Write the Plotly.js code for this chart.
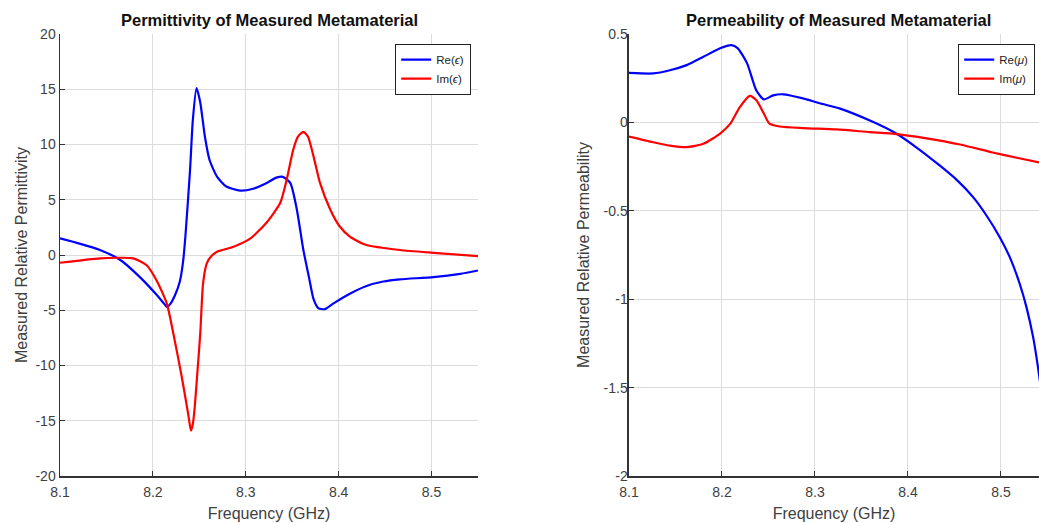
<!DOCTYPE html>
<html>
<head>
<meta charset="utf-8">
<script src="https://cdn.plot.ly/plotly-3.0.1.min.js"></script>
<style>html,body{margin:0;padding:0;background:#fff;}#chart{width:1039px;height:523px;}</style>
</head>
<body>
<div id="chart"></div>
<script>
// ---- Permittivity (left panel) ----
const freqReEps = [8.100, 8.120, 8.143, 8.165, 8.186, 8.204, 8.212, 8.215, 8.219, 8.224, 8.229, 8.2325, 8.235, 8.240, 8.243, 8.247, 8.251, 8.256, 8.261, 8.269, 8.279, 8.294, 8.308, 8.322, 8.333, 8.340, 8.348, 8.355, 8.362, 8.368, 8.373, 8.378, 8.385, 8.394, 8.412, 8.430, 8.448, 8.466, 8.502, 8.531, 8.550];
const reEps     = [1.5, 1.05, 0.45, -0.45, -2.0, -3.6, -4.4, -4.7, -4.4, -3.6, -2.4, -0.6, 1.7, 7.7, 12.2, 15.1, 13.8, 10.7, 8.6, 7.1, 6.2, 5.83, 6.0, 6.5, 7.0, 7.07, 6.5, 4.1, 0.45, -2.0, -4.0, -4.8, -4.9, -4.4, -3.5, -2.8, -2.4, -2.2, -2.0, -1.7, -1.4];

const freqImEps = [8.100, 8.143, 8.165, 8.179, 8.193, 8.204, 8.215, 8.222, 8.231, 8.238, 8.241, 8.243, 8.245, 8.248, 8.251, 8.254, 8.258, 8.263, 8.269, 8.287, 8.305, 8.322, 8.337, 8.344, 8.351, 8.356, 8.362, 8.367, 8.373, 8.380, 8.391, 8.401, 8.412, 8.430, 8.466, 8.502, 8.550];
const imEps     = [-0.7, -0.3, -0.25, -0.3, -0.9, -2.3, -4.4, -7.1, -11.0, -14.4, -15.9, -15.3, -13.8, -10.5, -7.1, -2.6, -0.75, -0.1, 0.3, 0.75, 1.5, 2.9, 4.7, 6.8, 9.5, 10.7, 11.15, 10.7, 8.9, 6.5, 4.1, 2.6, 1.66, 0.9, 0.45, 0.2, -0.1];

// ---- Permeability (right panel) ----
const freqReMu = [8.100, 8.126, 8.144, 8.162, 8.180, 8.198, 8.210, 8.217, 8.227, 8.237, 8.245, 8.255, 8.266, 8.287, 8.305, 8.327, 8.3627, 8.3878, 8.410, 8.4344, 8.4524, 8.4703, 8.4846, 8.499, 8.5097, 8.5204, 8.5276, 8.5348, 8.5394, 8.545];
const reMu     = [0.28, 0.277, 0.295, 0.324, 0.371, 0.419, 0.437, 0.419, 0.334, 0.18, 0.13, 0.153, 0.159, 0.136, 0.108, 0.078, 0.002, -0.064, -0.145, -0.245, -0.325, -0.424, -0.528, -0.652, -0.765, -0.917, -1.049, -1.22, -1.37, -1.58];

const freqImMu = [8.100, 8.126, 8.144, 8.162, 8.180, 8.198, 8.209, 8.219, 8.230, 8.237, 8.245, 8.251, 8.262, 8.287, 8.323, 8.359, 8.388, 8.420, 8.456, 8.491, 8.517, 8.546];
const imMu     = [-0.08, -0.112, -0.131, -0.14, -0.121, -0.063, -0.007, 0.085, 0.15, 0.125, 0.05, -0.007, -0.023, -0.032, -0.040, -0.055, -0.066, -0.090, -0.125, -0.170, -0.200, -0.232];

const xTicks = [8.1, 8.2, 8.3, 8.4, 8.5];
const xTickText = ['8.1', '8.2', '8.3', '8.4', '8.5'];
const yTicksEps = [-20, -15, -10, -5, 0, 5, 10, 15, 20];
const yTickTextEps = ['-20', '-15', '-10', '-5', '0', '5', '10', '15', '20'];
const yTicksMu = [-2, -1.5, -1, -0.5, 0, 0.5];
const yTickTextMu = ['-2', '-1.5', '-1', '-0.5', '0', '0.5'];

const FONT = 'Liberation Sans, Arial, Helvetica, sans-serif';
const BLUE = '#0000ff', RED = '#ff0000';
const LINE = {width: 2.2, shape: 'spline', smoothing: 0.6};

const traces = [
  {x: freqReEps, y: reEps, mode: 'lines', line: Object.assign({color: BLUE}, LINE), name: 'Re(<i>ϵ</i>)', xaxis: 'x', yaxis: 'y', legend: 'legend'},
  {x: freqImEps, y: imEps, mode: 'lines', line: Object.assign({color: RED}, LINE), name: 'Im(<i>ϵ</i>)', xaxis: 'x', yaxis: 'y', legend: 'legend'},
  {x: freqReMu, y: reMu, mode: 'lines', line: Object.assign({color: BLUE}, LINE), name: 'Re(<i>μ</i>)', xaxis: 'x2', yaxis: 'y2', legend: 'legend2'},
  {x: freqImMu, y: imMu, mode: 'lines', line: Object.assign({color: RED}, LINE), name: 'Im(<i>μ</i>)', xaxis: 'x2', yaxis: 'y2', legend: 'legend2'}
];

const axCommon = {
  showline: true, linecolor: '#333333', linewidth: 1.5,
  ticks: 'inside', ticklen: 5, tickwidth: 1, tickcolor: '#333333',
  showgrid: true, gridcolor: '#dcdcdc', gridwidth: 1,
  zeroline: false, mirror: false,
  tickfont: {family: FONT, size: 14, color: '#404040'},
  fixedrange: true
};

const legendCommon = {
  bgcolor: '#ffffff', bordercolor: '#222222', borderwidth: 1.2,
  font: {family: FONT, size: 11.5, color: '#222222'},
  tracegroupgap: 0, itemwidth: 30, yanchor: 'top'
};

// plot area: x 60..1039 px, y 34..476 px
const PX = px => (px - 60) / 979;
const PY = py => (476 - py) / 442;

const layout = {
  width: 1039, height: 523,
  margin: {l: 60, r: 0, t: 34, b: 47},
  paper_bgcolor: '#ffffff', plot_bgcolor: '#ffffff',
  showlegend: true,
  xaxis: Object.assign({}, axCommon, {
    domain: [0, 0.42697], range: [8.1, 8.55], tickvals: xTicks, ticktext: xTickText,
    anchor: 'y', ticklabelstandoff: 3,
    title: {text: 'Frequency (GHz)', font: {family: FONT, size: 16, color: '#404040'}, standoff: 8}
  }),
  yaxis: Object.assign({}, axCommon, {
    domain: [0, 1], range: [-20, 20], tickvals: yTicksEps, ticktext: yTickTextEps, anchor: 'x',
    title: {text: 'Measured Relative Permittivity', font: {family: FONT, size: 16, color: '#404040'}, standoff: 4}
  }),
  xaxis2: Object.assign({}, axCommon, {
    domain: [0.5812, 1], range: [8.1, 8.5409], tickvals: xTicks, ticktext: xTickText,
    anchor: 'y2', ticklabelstandoff: 3,
    title: {text: 'Frequency (GHz)', font: {family: FONT, size: 16, color: '#404040'}, standoff: 8}
  }),
  yaxis2: Object.assign({}, axCommon, {
    domain: [0, 1], range: [-2, 0.5], tickvals: yTicksMu, ticktext: yTickTextMu, anchor: 'x2',
    ticklabelstandoff: -3,
    title: {text: 'Measured Relative Permeability', font: {family: FONT, size: 16, color: '#404040'}, standoff: 10}
  }),
  legend: Object.assign({}, legendCommon, {x: PX(471), xanchor: 'right', y: PY(44)}),
  legend2: Object.assign({}, legendCommon, {x: PX(958), xanchor: 'left', y: PY(44)}),
  annotations: [
    {text: '<b>Permittivity of Measured Metamaterial</b>', xref: 'paper', yref: 'paper', x: PX(269), y: PY(20),
     xanchor: 'center', yanchor: 'middle', showarrow: false, font: {family: FONT, size: 16.5, color: '#111111'}},
    {text: '<b>Permeability of Measured Metamaterial</b>', xref: 'paper', yref: 'paper', x: PX(838), y: PY(20),
     xanchor: 'center', yanchor: 'middle', showarrow: false, font: {family: FONT, size: 16.5, color: '#111111'}}
  ]
};

Plotly.newPlot('chart', traces, layout, {displayModeBar: false, staticPlot: true});
</script>
</body>
</html>
